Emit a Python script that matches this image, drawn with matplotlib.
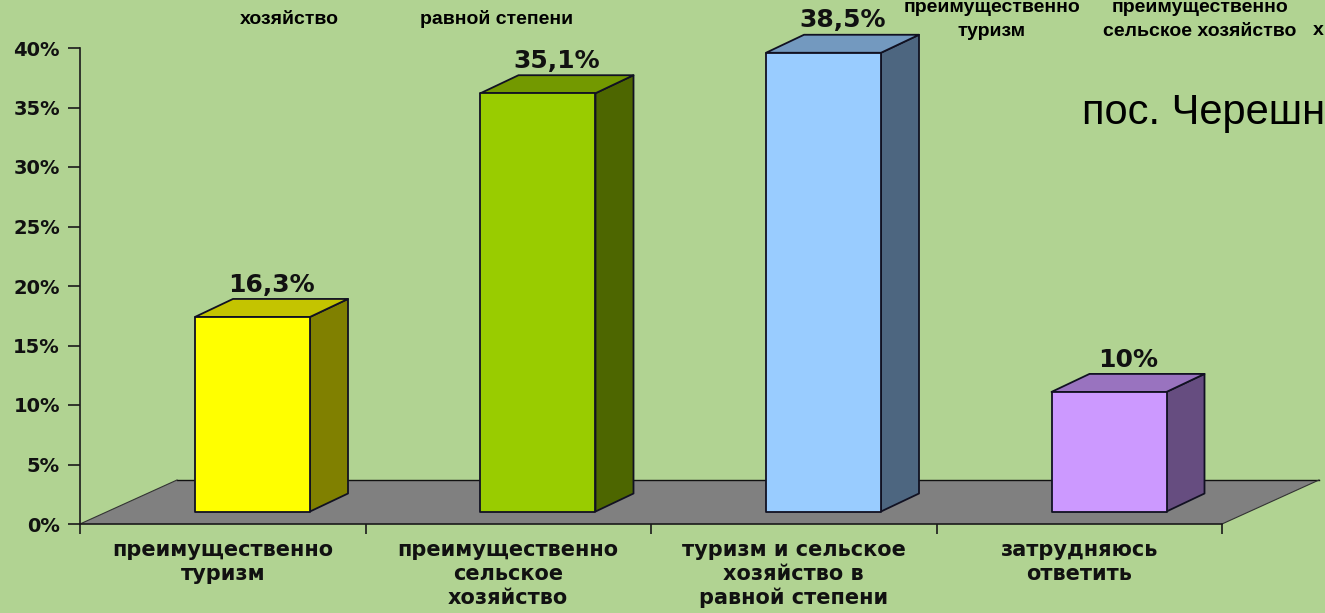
import matplotlib
matplotlib.use("Agg")
import matplotlib.pyplot as plt
from matplotlib.patches import Polygon

categories = ["преимущественно\nтуризм", "преимущественно\nсельское\nхозяйство",
              "туризм и сельское\nхозяйство в\nравной степени", "затрудняюсь\nответить"]
values = [16.3, 35.1, 38.5, 10.0]
value_labels = ["16,3%", "35,1%", "38,5%", "10%"]
yticks = [0, 5, 10, 15, 20, 25, 30, 35, 40]
ytick_labels = ["0%", "5%", "10%", "15%", "20%", "25%", "30%", "35%", "40%"]
front_colors = ["#FFFF00", "#99CC00", "#99CCFF", "#CC99FF"]
side_colors = ["#808000", "#4D6600", "#4D6680", "#664D80"]
top_colors = ["#C4C400", "#739900", "#7399BF", "#9973BF"]

BG = "#B1D392"
W, H = 1325, 613
X_PX = 285.5
Y_PX = 11.9
DX, DY = 38 / X_PX, 18 / Y_PX      # bar depth
FX, FY = 97 / X_PX, 44 / Y_PX      # floor depth
BAR_OFF, BAR_W = 115 / X_PX, 115 / X_PX
BASE = 1.05

fig = plt.figure(figsize=(W / 100, H / 100), dpi=100, facecolor=BG)
ax = fig.add_axes([80 / W, (H - 524) / H, 1142 / W, 476 / H])
ax.set_facecolor("none")
ax.set_xlim(0, len(categories))
ax.set_ylim(0, 40)
for s in ("top", "right"):
    ax.spines[s].set_visible(False)
for s in ("left", "bottom"):
    ax.spines[s].set_linewidth(1.2)
    ax.spines[s].set_color("#1a1a1a")
    ax.spines[s].set_zorder(6)

ax.set_yticks(yticks)
ax.set_yticklabels(ytick_labels, fontfamily="DejaVu Sans", fontweight="bold", fontsize=14, color="#111111")
ax.tick_params(axis="y", length=8.5, width=1.2, pad=6, color="#1a1a1a")
ax.set_xticks(range(len(categories) + 1))
ax.set_xticklabels([])
ax.tick_params(axis="x", which="major", length=7, width=1.2, color="#1a1a1a")
ax.set_xticks([i + 0.5 for i in range(len(categories))], minor=True)
ax.set_xticklabels(categories, minor=True, fontfamily="DejaVu Sans", fontweight="bold",
                   fontsize=15, color="#111111", linespacing=1.24)
ax.tick_params(axis="x", which="minor", length=0, pad=11.5)

n = len(categories)
ax.add_patch(Polygon([(0, 0), (n, 0), (n + FX, FY), (FX, FY)], closed=True, facecolor="#808080",
                     edgecolor="none", zorder=1, clip_on=False))
ax.plot([FX, n + FX], [FY, FY], color="#111111", lw=1.0, zorder=1.5, clip_on=False)
ax.plot([0, FX], [0, FY], color="#333333", lw=0.8, zorder=1.5, clip_on=False)
ax.plot([n, n + FX], [0, FY], color="#333333", lw=0.8, zorder=1.5, clip_on=False)

for i, v in enumerate(values):
    x0 = i + BAR_OFF
    x1 = x0 + BAR_W
    y0 = BASE
    y1 = v + 1.1
    kw = dict(closed=True, edgecolor="#111122", lw=1.3, zorder=3, clip_on=False, joinstyle="round")
    ax.add_patch(Polygon([(x1, y0), (x1 + DX, y0 + DY), (x1 + DX, y1 + DY), (x1, y1)], facecolor=side_colors[i], **kw))
    ax.add_patch(Polygon([(x0, y1), (x1, y1), (x1 + DX, y1 + DY), (x0 + DX, y1 + DY)], facecolor=top_colors[i], **kw))
    ax.add_patch(Polygon([(x0, y0), (x1, y0), (x1, y1), (x0, y1)], facecolor=front_colors[i], **kw))
    ax.text(x0 + BAR_W / 2 + DX / 2, y1 + DY + 0.2, value_labels[i], ha="center", va="bottom",
            fontfamily="DejaVu Sans", fontweight="bold", fontsize=18, color="#111111", clip_on=False)

# Fragments of a neighbouring slide, cut by the picture edge
top_font = dict(fontfamily="Liberation Sans", fontweight="bold", fontsize=14, color="black", linespacing=1.55)
fig.text(289 / W, 1 - 19 / H, "хозяйство", ha="center", va="center", **top_font)
fig.text(497 / W, 1 - 19 / H, "равной степени", ha="center", va="center", **top_font)
fig.text(992 / W, 1 - 19.5 / H, "преимущественно\nтуризм", ha="center", va="center", **top_font)
fig.text(1200 / W, 1 - 19.5 / H, "преимущественно\nсельское хозяйство", ha="center", va="center", **top_font)
fig.text(1324 / W, 1 - 30.5 / H, "х", ha="right", va="center", **top_font)
fig.text(1082 / W, 1 - 113 / H, "пос. Черешн", ha="left", va="center", fontfamily="Liberation Sans",
         fontsize=30, color="black")

fig.savefig("out.png", dpi=100, facecolor=BG)
